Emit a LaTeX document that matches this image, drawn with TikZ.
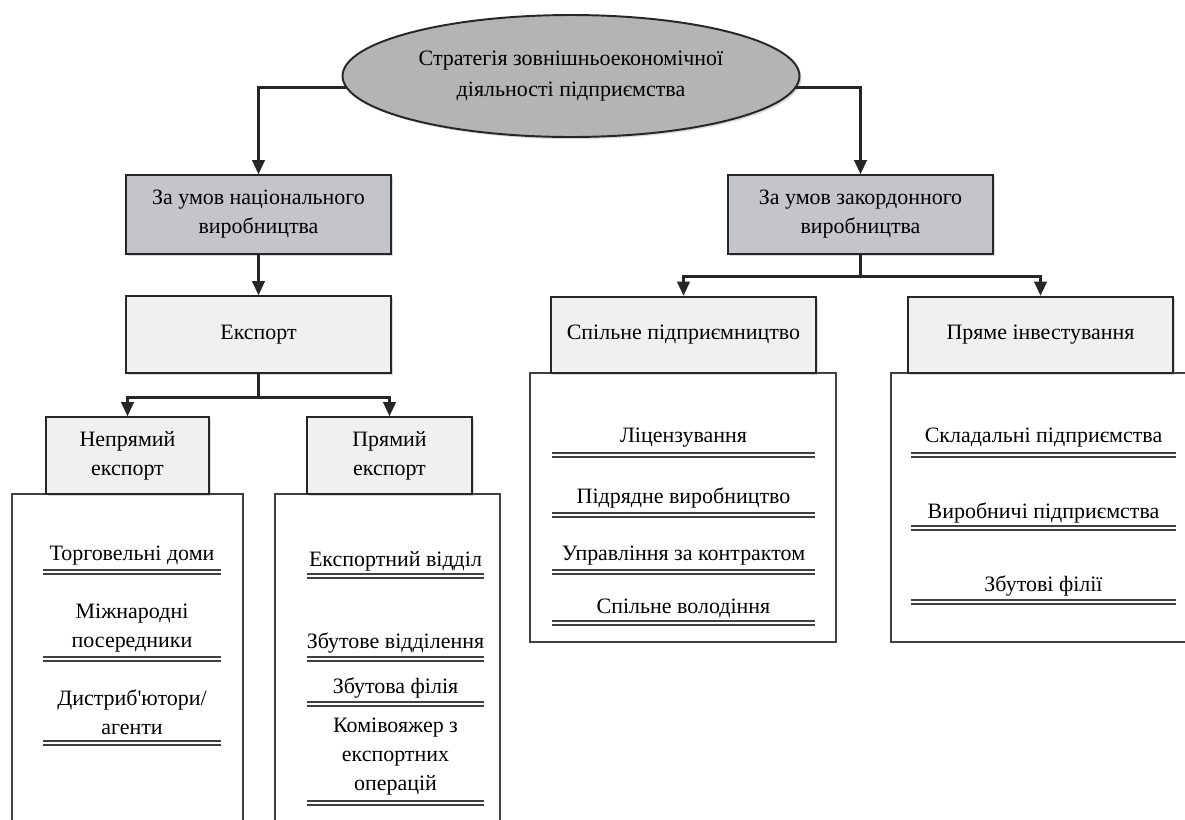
\documentclass[tikz,border=0pt]{standalone}
\usepackage{fontspec}
\setmainfont{Liberation Serif}
\usepackage{tikz}
\usetikzlibrary{shapes,arrows.meta,positioning,shadows}
\definecolor{headgray}{HTML}{C3C5C8}
\definecolor{subgray}{HTML}{F0F0F0}
\definecolor{ovalgray}{HTML}{B4B4B4}
\definecolor{linegray}{HTML}{404040}
\tikzset{
    block/.style={
            rectangle,
            draw=black!85,
            line width=1.1pt,
            align=center,
            text=black,
            font=\fontsize{12.5}{16.5}\selectfont,
            drop shadow={shadow xshift=1.2pt, shadow yshift=-1.2pt, opacity=0.3}
        },
    headblock/.style={
            block,
            fill=headgray,
            minimum width=5.3cm,
            minimum height=1.57cm
        },
    subblock/.style={
            block,
            fill=subgray,
            minimum height=1.53cm
        },
    cloud/.style={
            block,
            ellipse,
            fill=ovalgray,
            font=\fontsize{12.5}{18}\selectfont,
            minimum width=9.14cm,
            minimum height=2.44cm
        },
    panel/.style={
            draw=black!75,
            line width=1pt,
            fill=white
        },
    item/.style={
            align=center,
            text=black,
            font=\fontsize{12.5}{16.5}\selectfont
        },
    underline/.style={
            draw=linegray,
            line width=1pt,
            double=white,
            double distance=1pt
        },
    connector/.style={
            -{Triangle[length=8pt,width=7pt]},
            line width=1.5pt,
            draw=black!85
        },
    joint/.style={
            line width=1.5pt,
            draw=black!85
        }
}
\begin{document}
\begin{tikzpicture}[x=0.02cm, y=-0.02cm]
  \clip (0,0) rectangle (1185,819);
  \fill[white] (0,0) rectangle (1185,819);

  \path[panel] (12,494) rectangle (243,840);
  \path[panel] (275,494) rectangle (500,840);
  \path[panel] (530,373) rectangle (836,642);
  \path[panel] (891,373) rectangle (1200,642);

  \node[cloud] (strat) at (571,76) {Стратегія зовнішньоекономічної\\діяльності підприємства};
  \node[headblock] (nat) at (258.5,214.5) {За умов національного\\виробництва};
  \node[headblock] (abr) at (860.5,214.5) {За умов закордонного\\виробництва};
  \node[subblock, minimum width=5.3cm] (exp) at (258.5,334.5) {Експорт};
  \node[subblock, minimum width=3.26cm] (indir) at (127.5,455.5) {Непрямий\\експорт};
  \node[subblock, minimum width=3.3cm] (dir) at (389.5,455.5) {Прямий\\експорт};
  \node[subblock, minimum width=5.3cm] (joint) at (683.5,335) {Спільне підприємництво};
  \node[subblock, minimum width=5.3cm] (invest) at (1040.5,335) {Пряме інвестування};

  \draw[connector] (strat.183) -| (nat.north);
  \draw[connector] (strat.357) -| (abr.north);
  \draw[connector] (nat) -- (exp);
  \draw[joint] (exp.south) -- ++(0,24) coordinate (expj);
  \draw[connector] (expj) -| (indir.north);
  \draw[connector] (expj) -| (dir.north);
  \draw[joint] (abr.south) -- ++(0,22) coordinate (abrj);
  \draw[connector] (abrj) -| (joint.north);
  \draw[connector] (abrj) -| (invest.north);

  \node[item] (trade) at (132,556) {Торговельні доми};
  \node[item] (inter) at (132,628) {Міжнародні\\посередники};
  \node[item] (distr) at (132,712) {Дистриб\textquotesingle ютори/\\агенти};
  \node[item] (dept) at (395.5,561) {Експортний відділ};
  \node[item] (sales) at (395.5,643) {Збутове відділення};
  \node[item] (branch) at (395.5,688) {Збутова філія};
  \node[item] (agent) at (395.5,757) {Комівояжер з\\експортних\\операцій};
  \node[item] (lic) at (683.5,438) {Ліцензування};
  \node[item] (sub) at (683.5,498) {Підрядне виробництво};
  \node[item] (mgmt) at (683.5,556) {Управління за контрактом};
  \node[item] (own) at (683.5,608) {Спільне володіння};
  \node[item] (asm) at (1043.5,438) {Складальні підприємства};
  \node[item] (prod) at (1043.5,513) {Виробничі підприємства};
  \node[item] (subs) at (1043.5,586) {Збутові філії};

  \foreach \ya in {572,659,743} \draw[underline] (43,\ya) -- (221,\ya);
  \foreach \ya in {576,659,704,803} \draw[underline] (307,\ya) -- (484,\ya);
  \foreach \ya in {455,515,572,623} \draw[underline] (552,\ya) -- (815,\ya);
  \foreach \ya in {455,528,602} \draw[underline] (911,\ya) -- (1176,\ya);
\end{tikzpicture}
\end{document}
